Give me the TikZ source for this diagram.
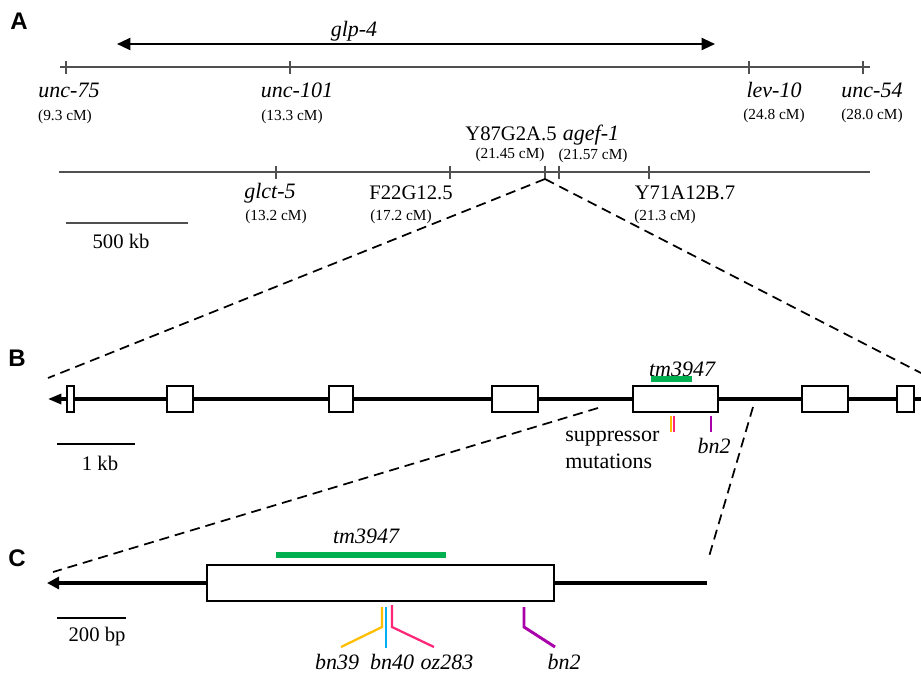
\documentclass[tikz,border=0pt]{standalone}
\usepackage{fontspec}
\setmainfont{Liberation Serif}
\newfontfamily\panelfont{Liberation Sans}
\usetikzlibrary{arrows.meta,positioning}
\definecolor{mapgray}{RGB}{80,80,80}
\definecolor{delgreen}{RGB}{0,176,80}
\definecolor{mutorange}{RGB}{255,190,0}
\definecolor{mutcyan}{RGB}{0,176,240}
\definecolor{mutpink}{RGB}{255,40,120}
\definecolor{mutmagenta}{RGB}{170,0,170}

\begin{document}
\begin{tikzpicture}[x=0.75pt,y=-0.75pt,
    gene/.style={font=\fontsize{16.5}{19}\selectfont\itshape,inner sep=0pt},
    clone/.style={font=\fontsize{15.5}{18}\selectfont,inner sep=0pt},
    mappos/.style={font=\fontsize{11.5}{13}\selectfont,inner sep=0pt},
    note/.style={font=\fontsize{16.5}{20}\selectfont,inner sep=0pt},
    panel/.style={font=\panelfont\bfseries\fontsize{18}{20}\selectfont,inner sep=0pt},
    mapline/.style={mapgray,line width=2.2pt},
    maptick/.style={mapgray,line width=1.3pt},
    exon/.style={draw,fill=white,line width=1.2pt},
    zoomline/.style={line width=1.3pt,dash pattern=on 7.5pt off 4.5pt},
    mutation/.style={line width=1.7pt}]
  \useasboundingbox (0,0) rectangle (921,676);

  % A: genetic map
  \node[panel] (pA) at (19,21) {A};
  \coordinate (g4l) at (117,44);
  \coordinate (g4r) at (715,44);
  \draw[{Triangle[length=10pt,width=9pt]}-{Triangle[length=10pt,width=9pt]},line width=1.6pt] (g4l) -- (g4r);
  \node[gene] (glp) at (354,31) {glp-4};

  \coordinate (m1l) at (60,67);
  \coordinate (m1r) at (870,67);
  \draw[mapline] (m1l) -- (m1r);
  \foreach \n/\x in {u75/66,u101/290,lev/749,u54/863}
    \draw[maptick] (\x,61) -- (\x,74) coordinate (\n);
  \node[gene] (nu75) at (69,90) {unc-75};
  \node[mappos] (cu75) at (65,117) {(9.3 cM)};
  \node[gene] (nu101) at (297,90) {unc-101};
  \node[mappos] (cu101) at (292,117) {(13.3 cM)};
  \node[gene] (nlev) at (774,90) {lev-10};
  \node[mappos] (clev) at (774,116) {(24.8 cM)};
  \node[gene] (nu54) at (872,90) {unc-54};
  \node[mappos] (cu54) at (872,116) {(28.0 cM)};

  \coordinate (m2l) at (59,172);
  \coordinate (m2r) at (870,172);
  \draw[mapline] (m2l) -- (m2r);
  \foreach \n/\x in {glct/276,f22/450,y87/545,agef/559,y71/649}
    \draw[maptick] (\x,166) -- (\x,179) coordinate (\n);
  \node[gene] (nglct) at (270,193) {glct-5};
  \node[mappos] (cglct) at (276,217) {(13.2 cM)};
  \node[clone] (nf22) at (411,193) {F22G12.5};
  \node[mappos] (cf22) at (401,217) {(17.2 cM)};
  \node[clone] (ny87) at (511,134) {Y87G2A.5};
  \node[mappos] (cy87) at (510,155) {(21.45 cM)};
  \node[gene] (nagef) at (591,135) {agef-1};
  \node[mappos] (cagef) at (593,156) {(21.57 cM)};
  \node[clone] (ny71) at (685,193) {Y71A12B.7};
  \node[mappos] (cy71) at (665,217) {(21.3 cM)};

  \coordinate (sA1) at (66,223);
  \coordinate (sA2) at (188,223);
  \draw[mapline] (sA1) -- (sA2);
  \node[clone] (lsA) at (121,241) {500 kb};

  % A -> B
  \coordinate (zb1) at (48,378);
  \coordinate (zb2) at (921,373);
  \draw[zoomline] (y87) -- (zb1);
  \draw[zoomline] (y87) -- (zb2);

  % B: gene model
  \node[panel] (pB) at (17,358) {B};
  \coordinate (bL) at (48,399);
  \coordinate (bR) at (921,399);
  \draw[line width=2.3pt,-{Triangle[length=10pt,width=7.5pt]}] (bR) -- (bL);
  \foreach \a/\b in {67/74,167/193,329/353,492/538,633/718,802/848,897/914}
    \draw[exon] (\a,386) rectangle (\b,412);
  \node[gene] (tmB) at (682,369) {tm3947};
  \coordinate (tmB1) at (651,379);
  \coordinate (tmB2) at (692,379);
  \draw[delgreen,line width=4.5pt] (tmB1) -- (tmB2);
  \draw[mutation,mutorange] (671,416) -- (671,432);
  \draw[mutation,mutpink] (674,416) -- (674,432);
  \draw[mutation,mutmagenta,line width=2.2pt] (711,416) -- (711,432);
  \node[gene] (bn2B) at (714,446) {bn2};
  \node[note,align=left,anchor=west] (supp) at (565,450) {suppressor\\mutations};

  \coordinate (sB1) at (57,444);
  \coordinate (sB2) at (135,444);
  \draw[line width=1.6pt] (sB1) -- (sB2);
  \node[clone] (lsB) at (100,463) {1 kb};

  % B -> C
  \coordinate (zc1) at (598,408);
  \coordinate (zc2) at (53,572);
  \coordinate (zc3) at (753,407);
  \coordinate (zc4) at (708,560);
  \draw[zoomline] (zc1) -- (zc2);
  \draw[zoomline] (zc3) -- (zc4);

  % C: exon detail
  \node[panel] (pC) at (17,558) {C};
  \coordinate (cL) at (47,583);
  \coordinate (cR) at (707,583);
  \draw[line width=2.3pt,-{Triangle[length=9pt,width=9pt]}] (cR) -- (cL);
  \draw[exon] (207,565) rectangle (554,601);
  \node[gene] (tmC) at (366,536) {tm3947};
  \coordinate (tmC1) at (276,555);
  \coordinate (tmC2) at (446,555);
  \draw[delgreen,line width=5pt] (tmC1) -- (tmC2);

  \node[gene] (bn39) at (337,662) {bn39};
  \node[gene] (bn40) at (392,662) {bn40};
  \node[gene] (oz283) at (447,662) {oz283};
  \node[gene] (bn2C) at (564,662) {bn2};
  \draw[mutation,mutorange] (382,607) -- (382,627) -- (341,647);
  \draw[mutation,mutcyan] (386,607) -- (386,648);
  \draw[mutation,mutpink] (392,605) -- (392,627) -- (434,647);
  \draw[mutation,mutmagenta,line width=2.2pt] (524,607) -- (524,627) -- (555,647);

  \coordinate (sC1) at (57,618);
  \coordinate (sC2) at (126,618);
  \draw[line width=1.6pt] (sC1) -- (sC2);
  \node[clone] (lsC) at (97,637) {200 bp};
\end{tikzpicture}
\end{document}
